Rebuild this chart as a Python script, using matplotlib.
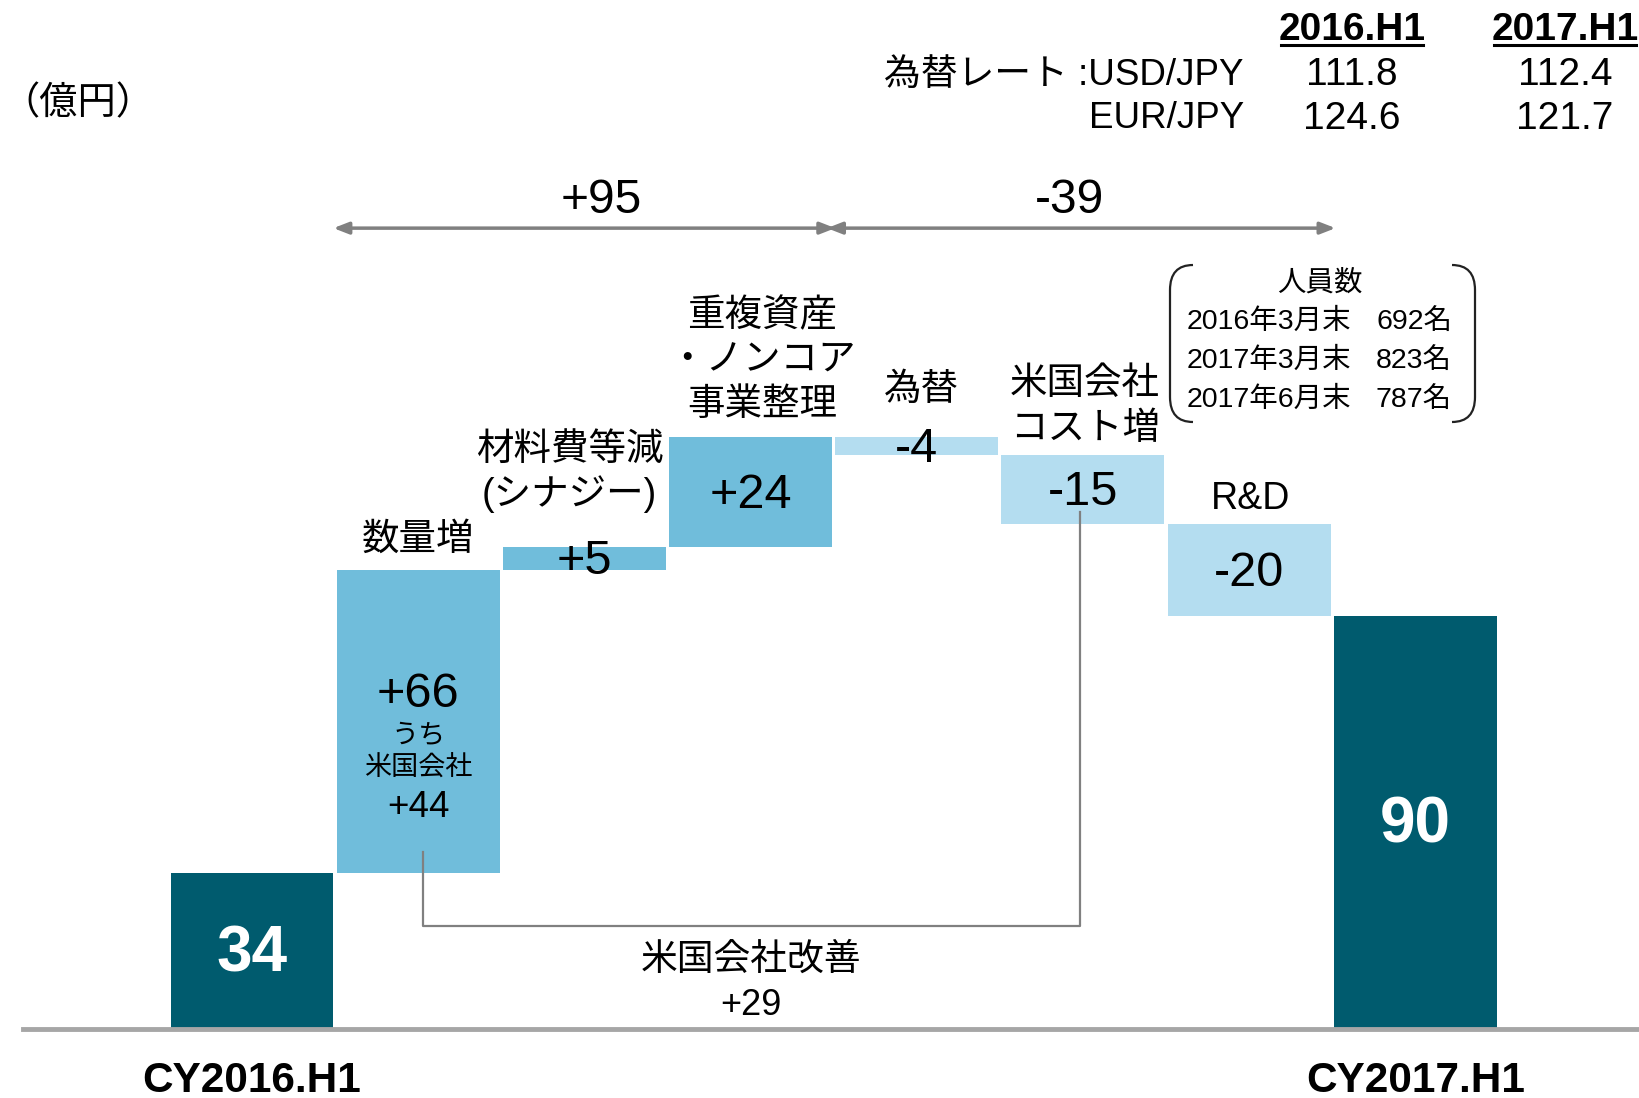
import numpy as np
import matplotlib
matplotlib.use('Agg')
from matplotlib import pyplot as plt
from matplotlib.path import Path
from matplotlib.patches import PathPatch

# ---- data ----
categories = ['CY2016.H1', '数量増', '材料費等減\n(シナジー)', '重複資産\n・ノンコア\n事業整理',
              '為替', '米国会社\nコスト増', 'R&D', 'CY2017.H1']
values = [34, 66, 5, 24, -4, -15, -20, 90]
value_labels = ['34', '+66', '+5', '+24', '-4', '-15', '-20', '90']
kinds = ['total', 'up', 'up', 'up', 'down', 'down', 'down', 'total']

group_labels = ['+95', '-39']
us_note = ['うち', '米国会社', '+44']
us_improve = ['米国会社改善', '+29']

fx_cols = ['2016.H1', '2017.H1']
fx_rows = ['為替レート :USD/JPY', 'EUR/JPY']
fx_vals = [['111.8', '112.4'], ['124.6', '121.7']]

staff_title = '人員数'
staff_dates = ['2016年3月末', '2017年3月末', '2017年6月末']
staff_counts = ['692名', '823名', '787名']
unit = '（億円）'

# ---- style ----
FONT = ['Liberation Sans', 'Noto Sans CJK JP', 'DejaVu Sans']
plt.rcParams['font.family'] = FONT
colors = {'total': '#005b6e', 'up': '#70bddb', 'down': '#b4ddf0'}
gray = '#808080'

fig = plt.figure(figsize=(16.39, 10.98), dpi=100)
ax = fig.add_axes([0, 0, 1, 1])
ax.set_xlim(-1.516, 8.346)
ax.set_ylim(-15.0, 224.2)
ax.axis('off')

# waterfall geometry
x = np.arange(len(values))
bottoms, tops = [], []
run = 0
for v, k in zip(values, kinds):
    if k == 'total':
        b, t = 0, v
        run = v
    else:
        b, t = min(run, run + v), max(run, run + v)
        run += v
    bottoms.append(b)
    tops.append(t)
bottoms = np.array(bottoms)
tops = np.array(tops)

ax.bar(x, tops - bottoms, bottom=bottoms, width=0.98,
       color=[colors[k] for k in kinds], edgecolor='none', zorder=2)
ax.axhline(0, xmin=0.014, xmax=1, color='#a6a6a6', lw=3.5, zorder=3)

# value labels
for i, (lab, k) in enumerate(zip(value_labels, kinds)):
    yc = (bottoms[i] + tops[i]) / 2 - 0.7
    if k == 'total':
        ax.text(i, yc, lab, ha='center', va='center', color='white',
                fontsize=46, fontweight='bold', zorder=4)
    else:
        if i == 1:
            yc += 6.6
        ax.text(i, yc, lab, ha='center', va='center', color='black',
                fontsize=35, zorder=4)

# sub note inside the volume bar
ax.text(1, 63.8, us_note[0], ha='center', va='center', fontsize=19.5, zorder=4)
ax.text(1, 56.8, us_note[1], ha='center', va='center', fontsize=19.5, zorder=4)
ax.text(1, 48.2, us_note[2], ha='center', va='center', fontsize=26.5, zorder=4)

# category labels above bars
lab_dx = [0, 0, -0.09, 0.07, 0.03, 0.01, 0.01, 0]
lab_dy = [0, 6.6, 16.4, 16.6, 10.2, 10.6, 5.4, 0]
line_step = 9.7
for i, cat in enumerate(categories):
    if kinds[i] == 'total':
        ax.text(i, -11.2, cat, ha='center', va='center', fontsize=30.5,
                fontweight='bold')
        continue
    lines = cat.split('\n')
    yc = tops[i] + lab_dy[i]
    n = len(lines)
    for j, ln in enumerate(lines):
        yy = yc + ((n - 1) / 2 - j) * line_step
        ax.text(i + lab_dx[i], yy, ln, ha='center', va='center', fontsize=27)

# group arrows
arrow_y = 174.5
spans = [(0.49, 3.51), (3.46, 6.52)]
for (a, b), lab, tx in zip(spans, group_labels, [2.1, 4.92]):
    ax.annotate('', xy=(a, arrow_y), xytext=(b, arrow_y),
                arrowprops=dict(arrowstyle='<|-|>,head_length=0.9,head_width=0.35',
                                color=gray, lw=2.5, shrinkA=0, shrinkB=0))
    ax.text(tx, arrow_y + 6.0, lab, ha='center', va='center', fontsize=34.5)

# US improvement connector
ax.plot([1.03, 1.03, 4.98, 4.98], [38.6, 22.4, 22.4, 112.6],
        color=gray, lw=1.6, zorder=3)
ax.text(3.0, 15.0, us_improve[0], ha='center', va='center', fontsize=26.5)
ax.text(3.0, 5.2, us_improve[1], ha='center', va='center', fontsize=26)

# ---- decorations in pixel coords ----
deco = fig.add_axes([0, 0, 1, 1])
deco.set_xlim(0, 1639)
deco.set_ylim(1098, 0)
deco.axis('off')
deco.patch.set_alpha(0)

deco.text(1, 104, unit, ha='left', va='center', fontsize=27.5)

col_x = [1352, 1565]
for cx, c in zip(col_x, fx_cols):
    deco.text(cx, 30, c, ha='center', va='center', fontsize=28,
              fontweight='bold')
for r, (lab, vals) in enumerate(zip(fx_rows, fx_vals)):
    yy = 75 + r * 44
    deco.text(1244, yy, lab, ha='right', va='center', fontsize=26.5)
    for cx, v in zip(col_x, vals):
        deco.text(cx, yy, v, ha='center', va='center', fontsize=28)

# underlines for column headers
fig.canvas.draw()
r = fig.canvas.get_renderer()
inv = deco.transData.inverted()
for t in list(deco.texts):
    if t.get_text() in fx_cols:
        bb = t.get_window_extent(r)
        (x0, _), (x1, _) = inv.transform([[bb.x0, bb.y0], [bb.x1, bb.y1]])
        deco.plot([x0 + 3, x1 - 3], [45, 45], color='black', lw=2.2)

# staff bracket box
bl, br, bt, bb_ = 1170, 1475, 265, 422
left = Path([(bl + 23, bt), (bl, bt), (bl, bt + 25), (bl, bb_ - 25), (bl, bb_), (bl + 23, bb_)],
            [Path.MOVETO, Path.CURVE3, Path.CURVE3, Path.LINETO, Path.CURVE3, Path.CURVE3])
right = Path([(br - 23, bt), (br, bt), (br, bt + 25), (br, bb_ - 25), (br, bb_), (br - 23, bb_)],
             [Path.MOVETO, Path.CURVE3, Path.CURVE3, Path.LINETO, Path.CURVE3, Path.CURVE3])
for p in (left, right):
    deco.add_patch(PathPatch(p, fill=False, edgecolor='#222222', lw=1.6))
deco.text(1320, 283, staff_title, ha='center', va='center', fontsize=20.5)
for k, (d, c) in enumerate(zip(staff_dates, staff_counts)):
    yy = 322 + k * 39
    deco.text(1187, yy, d, ha='left', va='center', fontsize=20.5)
    deco.text(1452, yy, c, ha='right', va='center', fontsize=20.5)

fig.savefig('out.png', dpi=100)
